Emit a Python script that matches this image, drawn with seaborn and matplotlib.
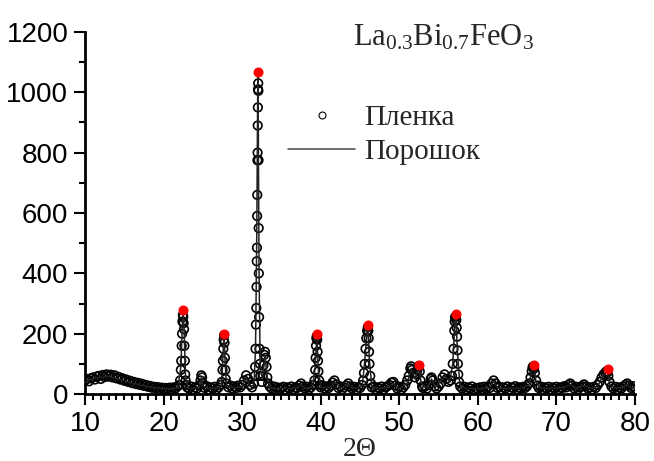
import numpy as np
import pandas as pd
import matplotlib
matplotlib.use('Agg')
import matplotlib.pyplot as plt
from matplotlib.lines import Line2D
from matplotlib.ticker import MultipleLocator
import seaborn as sns

# film (circles)
film_x = [10.0, 10.25, 10.5, 10.75, 11.0, 11.25, 11.5, 11.75, 12.0, 12.25, 12.5, 12.75,
          13.0, 13.25, 13.5, 13.75, 14.0, 14.25, 14.5, 14.75, 15.0, 15.25, 15.5, 15.75,
          16.0, 16.25, 16.5, 16.75, 17.0, 17.25, 17.5, 17.75, 18.0, 18.25, 18.5, 18.75,
          19.0, 19.25, 19.5, 19.75, 20.0, 20.25, 20.5, 20.75, 21.0, 21.25, 21.5, 21.75,
          22.0, 22.1, 22.2, 22.25, 22.3, 22.35, 22.4, 22.45, 22.5, 22.55, 22.6, 22.65, 22.7, 22.75, 22.8, 22.9, 23.0,
          23.25, 23.5, 23.75, 24.0, 24.25, 24.5, 24.7, 24.8, 24.9, 25.0, 25.25, 25.5, 25.75, 26.0, 26.25, 26.5, 26.75, 27.0, 27.25,
          27.4, 27.5, 27.55, 27.6, 27.65, 27.7, 27.75, 27.8, 27.85, 27.9, 28.0, 28.25,
          28.5, 28.75, 29.0, 29.25, 29.5, 29.75, 30.0, 30.25, 30.5, 30.75, 31.0, 31.25, 31.5,
          31.6, 31.65, 31.7, 31.75, 31.8, 31.83, 31.86, 31.88, 31.9, 31.92, 31.94, 31.96, 31.98, 32.0,
          32.02, 32.04, 32.06, 32.08, 32.1, 32.12, 32.15, 32.2, 32.25, 32.3,
          32.5, 32.6, 32.7, 32.8, 32.9, 33.0, 33.1, 33.2, 33.3, 33.5,
          33.75, 34.0, 34.25, 34.5, 34.75, 35.0, 35.25, 35.5, 35.75, 36.0, 36.25, 36.5, 36.75, 37.0, 37.25, 37.5, 37.75, 38.0, 38.25, 38.5, 38.75, 39.0,
          39.2, 39.3, 39.35, 39.4, 39.45, 39.5, 39.55, 39.6, 39.65, 39.7, 39.8, 39.9,
          40.0, 40.25, 40.5, 40.75, 41.0, 41.25, 41.5, 41.75, 42.0, 42.25, 42.5, 42.75, 43.0, 43.25, 43.5, 43.75, 44.0, 44.25, 44.5, 44.75, 45.0, 45.25,
          45.4, 45.5, 45.6, 45.7, 45.8, 45.9, 46.0, 46.05, 46.1, 46.15, 46.2, 46.3, 46.4, 46.5,
          46.75, 47.0, 47.25, 47.5, 47.75, 48.0, 48.25, 48.5, 48.75, 49.0, 49.25, 49.5, 49.75, 50.0, 50.25, 50.5, 50.75, 51.0,
          51.2, 51.4, 51.5, 51.6, 51.8, 52.0, 52.2, 52.3, 52.4, 52.5, 52.6, 52.7, 52.9,
          53.0, 53.25, 53.5, 53.75, 54.0, 54.1, 54.25, 54.5, 54.75, 55.0, 55.25, 55.5, 55.75, 56.0, 56.25, 56.5,
          56.7, 56.8, 56.9, 57.0, 57.05, 57.1, 57.2, 57.25, 57.3, 57.35, 57.4, 57.45, 57.5, 57.6, 57.75,
          58.0, 58.25, 58.5, 58.75, 59.0, 59.25, 59.5, 59.75, 60.0, 60.25, 60.5, 60.75, 61.0, 61.25, 61.5, 61.75, 62.0, 62.25, 62.5, 62.75,
          63.0, 63.25, 63.5, 63.75, 64.0, 64.25, 64.5, 64.75, 65.0, 65.25, 65.5, 65.75, 66.0, 66.25, 66.5,
          66.7, 66.85, 66.95, 67.05, 67.15, 67.25, 67.4, 67.6,
          67.75, 68.0, 68.25, 68.5, 68.75, 69.0, 69.25, 69.5, 69.75, 70.0, 70.25, 70.5, 70.75, 71.0, 71.25, 71.5, 71.75, 72.0,
          72.25, 72.5, 72.75, 73.0, 73.25, 73.5, 73.75, 74.0, 74.25, 74.5, 74.75, 75.0, 75.25,
          75.5, 75.75, 76.0, 76.2, 76.35, 76.5, 76.6, 76.75, 77.0,
          77.25, 77.5, 77.75, 78.0, 78.25, 78.5, 78.75, 79.0, 79.25, 79.5, 79.75, 80.0]
film_y = [45, 50, 42, 52, 55, 48, 58, 60, 50, 63, 56, 65,
          58, 64, 55, 62, 52, 57, 48, 52, 44, 48, 40, 44,
          36, 40, 33, 37, 30, 34, 27, 30, 24, 27, 21, 24,
          19, 23, 17, 21, 16, 20, 15, 21, 14, 22, 18, 25,
          30, 45, 80, 110, 160, 200, 240, 262, 255, 235, 215, 160, 110, 65, 45, 30, 22,
          18, 25, 15, 22, 18, 28, 45, 62, 55, 35, 20, 26, 15, 22, 18, 24, 16, 22, 30,
          40, 80, 110, 150, 180, 195, 170, 120, 80, 50, 35, 22,
          28, 18, 25, 20, 28, 22, 30, 45, 62, 50, 30, 22, 35,
          60, 90, 150, 230, 285, 355, 440, 485, 590, 660, 775, 800, 890, 950,
          1010, 1030, 1005, 775, 550, 400, 255, 150, 100, 60,
          40, 60, 95, 130, 140, 120, 90, 55, 35, 25,
          18, 25, 15, 22, 14, 20, 24, 15, 22, 18, 25, 16, 22, 20, 28, 35, 25, 18, 24, 16, 22, 30,
          45, 80, 120, 160, 185, 192, 180, 140, 110, 75, 45, 30,
          22, 28, 18, 25, 20, 28, 38, 45, 32, 20, 25, 16, 22, 28, 35, 25, 18, 24, 15, 22, 20, 30,
          45, 70, 100, 150, 185, 210, 222, 210, 185, 140, 100, 60, 35, 22,
          25, 16, 22, 18, 25, 15, 22, 26, 30, 38, 40, 28, 18, 24, 15, 22, 30, 45,
          60, 85, 92, 80, 70, 55, 65, 80, 90, 93, 75, 45, 25,
          20, 25, 18, 30, 50, 55, 45, 25, 18, 25, 35, 55, 65, 50, 40, 45,
          60, 100, 150, 210, 240, 255, 258, 245, 220, 190, 145, 100, 65, 40, 25,
          18, 24, 15, 22, 18, 25, 14, 20, 16, 22, 15, 24, 18, 25, 20, 35, 45, 35, 20, 24,
          15, 22, 18, 25, 14, 22, 20, 26, 16, 22, 18, 24, 20, 26, 35,
          55, 75, 88, 92, 85, 70, 45, 28,
          20, 25, 16, 22, 18, 24, 15, 22, 18, 24, 16, 22, 20, 26, 22, 30, 35, 28,
          18, 24, 16, 22, 26, 32, 25, 18, 22, 15, 24, 20, 30,
          40, 55, 65, 70, 75, 72, 60, 40, 25,
          18, 24, 15, 22, 18, 25, 30, 35, 28, 20, 26, 18]

# powder (line)
powder_x = [10, 11, 12, 13, 14, 15, 16, 17, 18, 19, 20, 21, 21.8,
            22.2, 22.4, 22.5, 22.6, 22.8, 23.2, 24, 24.6, 24.8, 25.0, 26, 27, 27.4, 27.6, 27.7, 27.8, 28.0,
            29, 30, 30.5, 31, 31.5, 31.7, 31.85, 31.95, 32.0, 32.05, 32.15, 32.3, 32.6, 32.9, 33.2, 33.5,
            34, 35, 36, 37, 37.5, 38, 39, 39.3, 39.5, 39.7, 40, 41, 41.8, 42.5, 43.5, 44.5,
            45.3, 45.6, 45.9, 46.0, 46.2, 46.5, 47.5, 48.5, 49.2, 50, 51, 51.5, 52, 52.5, 52.8, 53.5,
            54.1, 54.6, 55.8, 56.4, 56.8, 57.1, 57.2, 57.4, 57.7, 58.5, 59.5, 60.5, 61.5, 62, 62.5, 63.5,
            64.5, 65.5, 66.5, 66.9, 67.1, 67.4, 68, 69, 70, 71, 71.8, 72.5, 73.5, 74.5, 75.3, 75.8,
            76.3, 76.5, 76.8, 77.5, 78.5, 79, 79.5, 80]
powder_y = [40, 50, 55, 58, 52, 44, 36, 30, 25, 21, 18, 17, 20,
            90, 240, 270, 220, 50, 18, 20, 25, 55, 25, 18, 20, 30, 160, 195, 120, 30,
            20, 25, 55, 25, 30, 150, 500, 900, 1060, 900, 400, 80, 50, 130, 50, 22,
            18, 20, 18, 20, 32, 18, 25, 90, 190, 80, 22, 20, 40, 20, 30, 18,
            30, 110, 210, 220, 110, 25, 18, 22, 35, 18, 35, 85, 50, 90, 35, 20,
            50, 22, 60, 40, 100, 250, 255, 140, 30, 18, 18, 18, 20, 42, 20, 18,
            18, 20, 30, 85, 92, 40, 20, 18, 20, 22, 32, 20, 28, 18, 28, 55,
            72, 70, 30, 20, 22, 32, 20, 20]

# marked reflexes (red dots)
peak_x = [22.5, 27.7, 32.0, 39.5, 46.0, 52.5, 57.2, 67.1, 76.5]
peak_y = [280, 200, 1068, 200, 228, 97, 265, 97, 82]

sns.set_style('ticks')
plt.rcParams['font.family'] = ['Liberation Sans', 'DejaVu Sans']
plt.rcParams['mathtext.fontset'] = 'custom'
plt.rcParams['mathtext.rm'] = 'Liberation Serif'
plt.rcParams['mathtext.it'] = 'Liberation Serif:italic'

film = pd.DataFrame({'x': film_x, 'y': film_y})
powder = pd.DataFrame({'x': powder_x, 'y': powder_y})
peaks = pd.DataFrame({'x': peak_x, 'y': peak_y})

fig = plt.figure(figsize=(6.54, 4.61), dpi=100)
ax = fig.add_axes([0.130, 0.1453, 0.841, 0.7853])

sns.scatterplot(data=film, x='x', y='y', marker='o', s=38, facecolors='none',
                edgecolor='black', linewidth=1.2, ax=ax, zorder=2)
sns.lineplot(data=powder, x='x', y='y', color='#222222', linewidth=1.1,
             estimator=None, sort=False, ax=ax, zorder=3)
sns.scatterplot(data=peaks, x='x', y='y', marker='o', s=52, color='red',
                edgecolor='red', linewidth=0, ax=ax, zorder=4)

ax.set_xlim(10, 80)
ax.set_ylim(0, 1200)
ax.xaxis.set_major_locator(MultipleLocator(10))
ax.xaxis.set_minor_locator(MultipleLocator(1))
ax.yaxis.set_major_locator(MultipleLocator(200))
ax.yaxis.set_minor_locator(MultipleLocator(100))
ax.tick_params(which='major', direction='out', length=8, width=1.5, labelsize=20, pad=4, colors='black')
ax.tick_params(which='minor', direction='out', length=4.5, width=1.5, colors='black')
sns.despine(ax=ax)
for s in ['left', 'bottom']:
    ax.spines[s].set_linewidth(2)
    ax.spines[s].set_color('black')

ax.set_xlabel('2Θ', fontfamily='Liberation Serif', fontsize=20, labelpad=0)
ax.set_ylabel('')

fig.text(353 / 654, 1 - 45 / 461, r'$\mathrm{La_{0.3}Bi_{0.7}FeO_3}$', fontsize=22, va='baseline')

h1 = Line2D([], [], ls='none', marker='o', mfc='none', mec='black', ms=5, mew=0.8)
h2 = Line2D([], [], color='#555555', lw=1.2)
ax.legend([h1, h2], ['Пленка', 'Порошок'], loc='center left',
          bbox_to_anchor=(288 / 654, 1 - 135 / 461), bbox_transform=fig.transFigure,
          frameon=False, prop={'family': 'Liberation Serif', 'size': 21},
          handlelength=2.3, handletextpad=0.3, labelspacing=0.25,
          borderpad=0, borderaxespad=0)

fig.savefig('out.png', dpi=100)
